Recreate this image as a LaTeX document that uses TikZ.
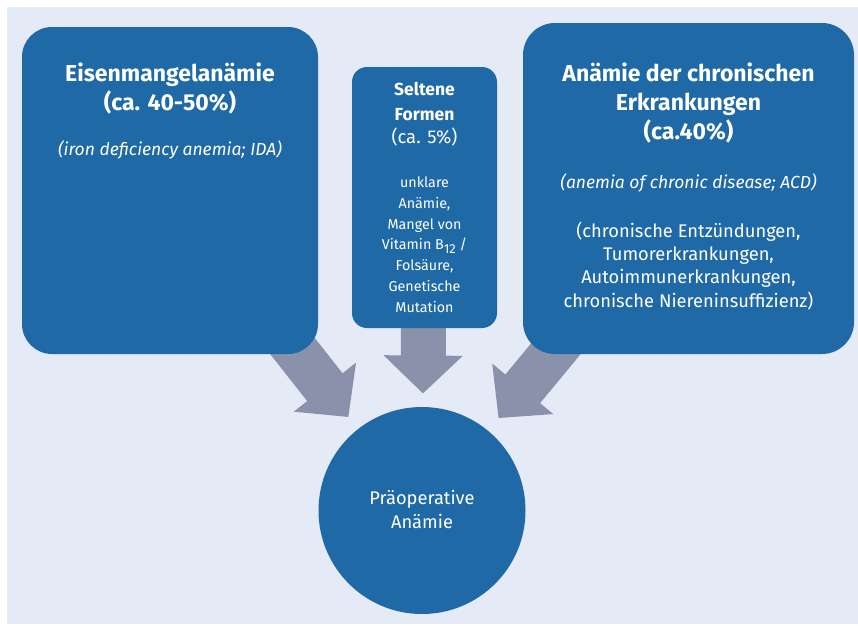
\documentclass[tikz,border=0pt]{standalone}
\usepackage{fontspec}
\setmainfont{Fira Sans}
\usetikzlibrary{arrows.meta,calc,positioning}
\definecolor{boxblue}{HTML}{1F69A6}
\definecolor{arrowgray}{HTML}{8A91AB}
\definecolor{panelblue}{HTML}{E4EAF6}
\tikzset{>=Triangle}
\pgfdeclarelayer{panel}
\pgfdeclarelayer{arrows}
\pgfsetlayers{panel,arrows,main}
\newcommand{\Bsub}{B\raisebox{-3.5pt}{\fontsize{13}{13}\selectfont 12}}

\begin{document}
\begin{tikzpicture}[x=1pt,y=-1pt,
  box/.style={fill=boxblue,inner sep=0pt},
  txt/.style={text=white,align=center,inner sep=0pt,anchor=base},
  big/.style={font=\bfseries\fontsize{23}{28.8}\selectfont},
  mid/.style={font=\bfseries\fontsize{17.5}{25}\selectfont},
  ital/.style={font=\itshape\fontsize{17.5}{20}\selectfont},
  plain/.style={font=\fontsize{18.3}{23.3}\selectfont},
  small/.style={font=\fontsize{14.3}{20.7}\selectfont},
  fat/.style={draw=arrowgray,line width=45pt,-{Triangle[width=77pt,length=38pt]}}]
\useasboundingbox (0,0) rectangle (858,625);
\begin{pgfonlayer}{panel}
\fill[white] (0,0) rectangle (858,625);
\fill[panelblue] (7,7) rectangle (858,624);
\end{pgfonlayer}

\node[box,rounded corners=30pt,minimum width=296pt,minimum height=327pt] (eisen) at (170,190.5) {};
\node[box,rounded corners=15pt,minimum width=145pt,minimum height=261pt] (selten) at (424.5,197.5) {};
\node[box,rounded corners=32pt,minimum width=331pt,minimum height=331pt] (acd) at (688.5,188.5) {};
\node[box,circle,minimum size=207pt] (praeop) at (422,510.5) {};

\node[txt,big] (eisentitle) at (170,110) {Eisenmangelanämie\\(ca. 40-50\%)};
\node[txt,ital] (eisenen) at (170,155) {(iron deficiency anemia; IDA)};

\node[txt,mid] (seltentitle) at (424.5,120) {Seltene\\Formen};
\node[txt,plain,font=\fontsize{18.5}{20}\selectfont] (seltenpct) at (424.5,143) {(ca. 5\%)};
\node[txt,small] (seltenlist) at (424.5,312) {unklare\\Anämie,\\Mangel von\\Vitamin \Bsub{} /\\Folsäure,\\Genetische\\Mutation};

\node[txt,big] (acdtitle) at (688.5,139) {Anämie der chronischen\\Erkrankungen\\(ca.40\%)};
\node[txt,ital] (acden) at (688.5,188) {(anemia of chronic disease; ACD)};
\node[txt,plain] (acdlist) at (688.5,307) {(chronische Entzündungen,\\Tumorerkrankungen,\\Autoimmunerkrankungen,\\chronische Niereninsuffizienz)};

\node[txt,plain] (praeoptext) at (422,528) {Präoperative\\Anämie};

\begin{pgfonlayer}{arrows}
\draw[fat] (eisen.center) -- ($(praeop)!119pt!(eisen)$);
\draw[fat] (selten.center) -- ($(praeop)!117pt!(selten)$);
\draw[fat] (acd.center) -- ($(praeop)!120pt!(acd)$);
\end{pgfonlayer}
\end{tikzpicture}
\end{document}
